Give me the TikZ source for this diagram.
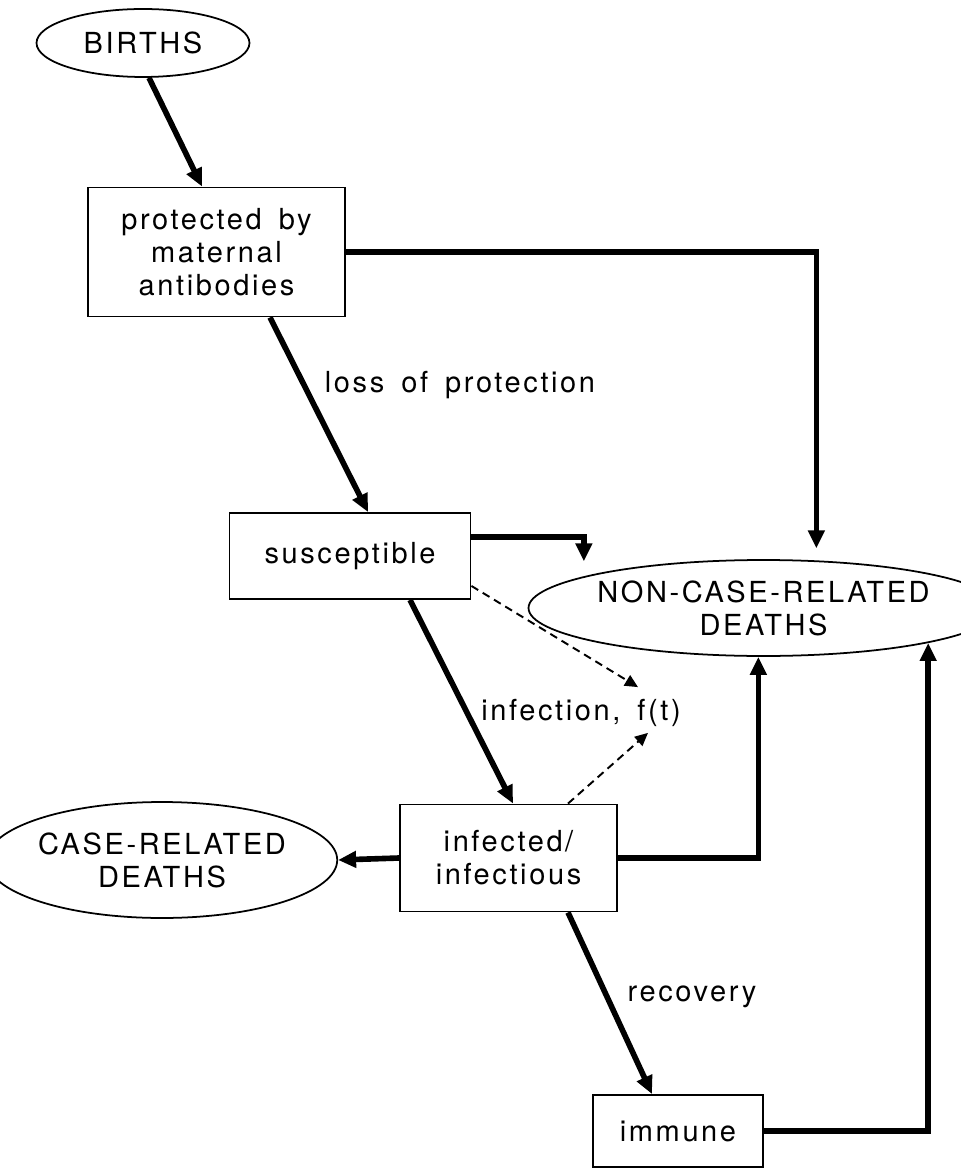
\documentclass[tikz,border=0pt]{standalone}
\usepackage{fontspec}
\setmainfont{TeX Gyre Heros}[LetterSpace=9,WordSpace=1.6]
\usetikzlibrary{arrows.meta,shapes.geometric,calc}

\begin{document}
\begin{tikzpicture}[x=0.02cm,y=-0.02cm,>={Triangle[length=0.36cm,width=0.32cm]},
  every node/.style={font=\fontsize{16.5}{18.8}\selectfont,align=center},
  box/.style={draw,line width=1.1pt,inner sep=0pt},
  oval/.style={draw,ellipse,line width=1pt,inner sep=0pt},
  flow/.style={->,line width=3.2pt},
  force/.style={->,line width=1.1pt,dash pattern=on 4.5pt off 3pt,>={Triangle[length=0.26cm,width=0.24cm]}}]
  \useasboundingbox (0,0) rectangle (960,1168);
  % compartments
  \node[oval,minimum width=4.26cm,minimum height=1.36cm] at (143,43) (births) {BIRTHS};
  \node[box,minimum width=5.14cm,minimum height=2.58cm] at (216.5,252) (prot) {protected by\\maternal\\antibodies};
  \node[box,minimum width=4.82cm,minimum height=1.72cm] at (350,556) (sus) {susceptible};
  \node[box,minimum width=4.34cm,minimum height=2.14cm] at (508.5,858) (inf) {infected/\\infectious};
  \node[box,minimum width=3.4cm,minimum height=1.44cm] at (678,1131) (imm) {immune};
  \node[oval,minimum width=7.74cm,minimum height=1.92cm] at (763.5,608) (nc) {NON-CASE-RELATED\\DEATHS};
  \node[oval,minimum width=6.1cm,minimum height=2.32cm] at (162,860) (case) {CASE-RELATED\\DEATHS};
  % labels
  \node at (460,385) (loss) {loss of protection};
  \node at (581,713) (lab) {infection, f(t)};
  \node at (692,997) (rec) {recovery};
  % flows
  \draw[flow] ($(births.south)+(6,0)$) -- ($(prot.north)+(-14.5,0)$);
  \draw[flow] ($(prot.south)+(53.5,0)$) -- ($(sus.north)+(18,0)$);
  \draw[flow] ($(sus.south)+(60,0)$) -- ($(inf.north)+(4.5,0)$);
  \draw[flow] ($(inf.south)+(59.5,0)$) -- ($(imm.north)+(-26,0)$);
  \draw[flow] (inf.west) -- (case.east);
  \draw[flow,shorten >=0.24cm] (prot.east) -| (nc.42);
  \draw[flow,shorten >=0.3cm] ($(sus.east)+(0,-19)$) -| (nc.170);
  \draw[flow] (inf.east) -| (nc.264);
  \draw[flow] (imm.east) -| (nc.348);
  % force of infection
  \draw[force] ($(sus.south east)+(0,-14)$) -- ($(lab.north)+(57,-6)$);
  \draw[force] ($(inf.north)+(59.5,0)$) -- ($(lab.south)+(67,0)$);
\end{tikzpicture}
\end{document}
